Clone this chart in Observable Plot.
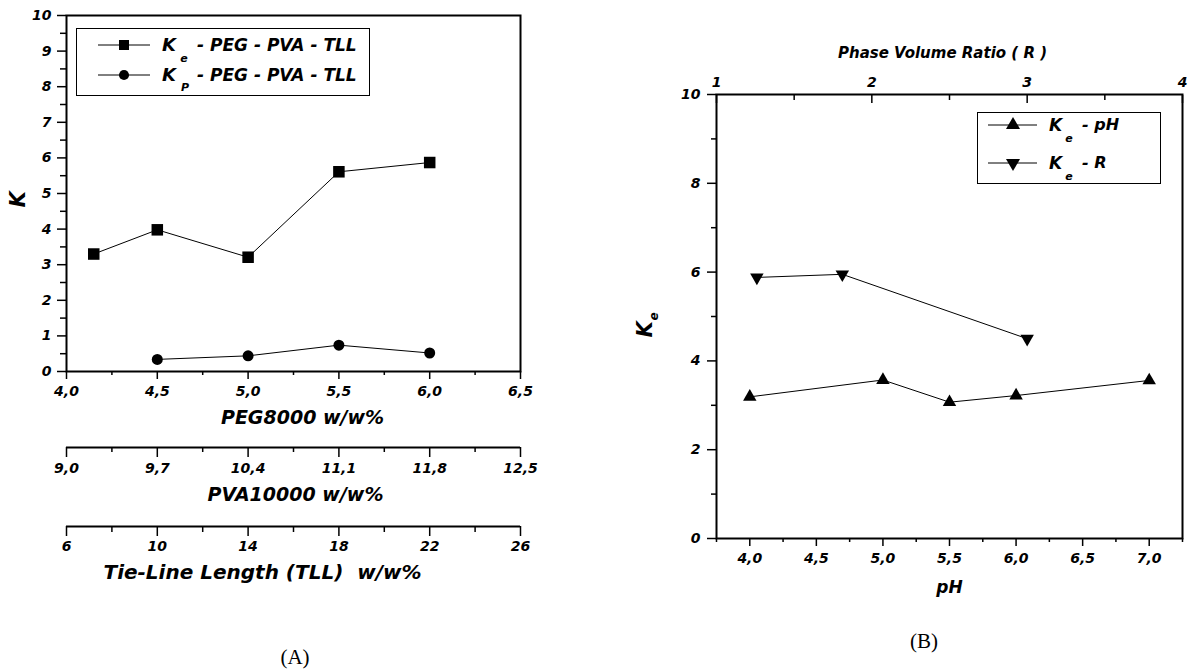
<!DOCTYPE html>
<html><head><meta charset="utf-8">
<script src="https://cdn.jsdelivr.net/npm/d3@7"></script>
<script src="https://cdn.jsdelivr.net/npm/@observablehq/plot@0.6"></script>
<style>
html,body{margin:0;padding:0;background:#fff;}
#wrap{position:relative;width:1194px;height:672px;overflow:hidden;background:#fff;}
#wrap svg{position:absolute;overflow:visible;}
</style></head>
<body><div id="wrap"></div>
<script>
// ---------- data (panel A) ----------
const pegX   = [4.15, 4.5, 5.0, 5.5, 6.0];
const keTLL  = [3.30, 3.98, 3.21, 5.61, 5.87];
const kpX    = [4.5, 5.0, 5.5, 6.0];
const kpTLL  = [0.34, 0.44, 0.74, 0.52];
const pegTicks = [4.0, 4.5, 5.0, 5.5, 6.0, 6.5];
const pegTickLabels = ["4,0", "4,5", "5,0", "5,5", "6,0", "6,5"];
const pegMinor = [4.25, 4.75, 5.25, 5.75, 6.25];
const pvaTicks = [9.0, 9.7, 10.4, 11.1, 11.8, 12.5];
const pvaTickLabels = ["9,0", "9,7", "10,4", "11,1", "11,8", "12,5"];
const pvaMinor = [9.35, 10.05, 10.75, 11.45, 12.15];
const tllTicks = [6, 10, 14, 18, 22, 26];
const tllTickLabels = ["6", "10", "14", "18", "22", "26"];
const tllMinor = [8, 12, 16, 20, 24];
const kTicks = [0, 1, 2, 3, 4, 5, 6, 7, 8, 9, 10];
const kTickLabels = ["0", "1", "2", "3", "4", "5", "6", "7", "8", "9", "10"];
const kMinor = [0.5, 1.5, 2.5, 3.5, 4.5, 5.5, 6.5, 7.5, 8.5, 9.5];

// ---------- data (panel B) ----------
const phX   = [4.0, 5.0, 5.5, 6.0, 7.0];
const kePH  = [3.19, 3.57, 3.07, 3.22, 3.56];
const rX    = [1.26, 1.81, 3.0];
const keR   = [5.88, 5.95, 4.50];
const phTicks = [4.0, 4.5, 5.0, 5.5, 6.0, 6.5, 7.0];
const phTickLabels = ["4,0", "4,5", "5,0", "5,5", "6,0", "6,5", "7,0"];
const phMinor = [3.75, 4.25, 4.75, 5.25, 5.75, 6.25, 6.75, 7.25];
const rTicks = [1, 2, 3, 4];
const rTickLabels = ["1", "2", "3", "4"];
const rMinor = [1.5, 2.5, 3.5];
const keTicks = [0, 2, 4, 6, 8, 10];
const keTickLabels = ["0", "2", "4", "6", "8", "10"];
const keMinor = [1, 3, 5, 7, 9];

const wrap = document.getElementById("wrap");
const FONT = "DejaVu Sans";
const baseStyle = {fontFamily: FONT, fontSize: "14px", fontWeight: "bold", fontStyle: "italic",
  background: "transparent", color: "black", overflow: "visible"};
function place(svg, left, top) {
  svg.style.position = "absolute"; svg.style.left = left + "px"; svg.style.top = top + "px";
  wrap.appendChild(svg);
}
const lookup = (ticks, labels) => d => labels[ticks.indexOf(d)];
const blank = () => "";
const triangleDown = {draw(context, size) {
  const y = -Math.sqrt(size / (Math.sqrt(3) * 3));
  context.moveTo(0, -y * 2);
  context.lineTo(-Math.sqrt(3) * y, y);
  context.lineTo(Math.sqrt(3) * y, y);
  context.closePath();
}};

const keRows = pegX.map((x, i) => ({x, y: keTLL[i]}));
const kpRows = kpX.map((x, i) => ({x, y: kpTLL[i]}));

// ---------- Panel A main ----------
place(Plot.plot({
  width: 560, height: 440,
  marginLeft: 66, marginRight: 40, marginTop: 15, marginBottom: 69,
  style: baseStyle,
  x: {domain: [4, 6.5]},
  y: {domain: [0, 10]},
  marks: [
    Plot.axisX(pegTicks, {tickSize: 8, tickPadding: 7, strokeWidth: 1.5, fontSize: 14, tickFormat: lookup(pegTicks, pegTickLabels), label: null}),
    Plot.axisX(pegMinor, {tickSize: 4, strokeWidth: 1.5, tickFormat: blank, label: null}),
    Plot.axisY(kTicks, {tickSize: 9, tickPadding: 6, strokeWidth: 1.5, fontSize: 14, tickFormat: lookup(kTicks, kTickLabels), label: null}),
    Plot.axisY(kMinor, {tickSize: 6, strokeWidth: 1.5, tickFormat: blank, label: null}),
    Plot.frame({stroke: "black", strokeWidth: 2}),
    Plot.line(keRows, {x: "x", y: "y", stroke: "black", strokeWidth: 1}),
    Plot.dot(keRows, {x: "x", y: "y", symbol: "square", r: 6.5, fill: "black", stroke: "none"}),
    Plot.line(kpRows, {x: "x", y: "y", stroke: "black", strokeWidth: 1}),
    Plot.dot(kpRows, {x: "x", y: "y", symbol: "circle", r: 5.5, fill: "black", stroke: "none"}),
    Plot.text(["K"], {frameAnchor: "left", dx: -48, dy: 14, rotate: -90, fontSize: 21}),
    Plot.text(["PEG8000 w/w%"], {frameAnchor: "bottom", dx: 9, dy: 52, fontSize: 19})
  ]
}), 0, 0);

// ---------- Panel A secondary axes ----------
place(Plot.plot({
  width: 560, height: 100,
  marginLeft: 66, marginRight: 40, marginTop: 0, marginBottom: 70,
  style: baseStyle,
  x: {domain: [9, 12.5]},
  y: {domain: [0, 1], axis: null},
  marks: [
    Plot.ruleY([0], {stroke: "black", strokeWidth: 2}),
    Plot.axisX(pvaTicks, {tickSize: 10, tickPadding: 6, strokeWidth: 1.5, fontSize: 14, tickFormat: lookup(pvaTicks, pvaTickLabels), label: null}),
    Plot.axisX(pvaMinor, {tickSize: 5, strokeWidth: 1.5, tickFormat: blank, label: null}),
    Plot.text(["PVA10000 w/w%"], {frameAnchor: "bottom", dx: 2, dy: 53, fontSize: 19})
  ]
}), 0, 417);

place(Plot.plot({
  width: 560, height: 100,
  marginLeft: 66, marginRight: 40, marginTop: 0, marginBottom: 70,
  style: baseStyle,
  x: {domain: [6, 26]},
  y: {domain: [0, 1], axis: null},
  marks: [
    Plot.ruleY([0], {stroke: "black", strokeWidth: 2}),
    Plot.axisX(tllTicks, {tickSize: 10, tickPadding: 5, strokeWidth: 1.5, fontSize: 14, tickFormat: lookup(tllTicks, tllTickLabels), label: null}),
    Plot.axisX(tllMinor, {tickSize: 6, strokeWidth: 1.5, tickFormat: blank, label: null}),
    Plot.text(["Tie-Line Length (TLL)  w/w%"], {frameAnchor: "bottom", dx: -31, dy: 52, fontSize: 20})
  ]
}), 0, 496);

// ---------- Panel B main ----------
const phRows = phX.map((x, i) => ({x, y: kePH[i]}));
const rRows = rX.map((x, i) => ({x, y: keR[i]}));

place(Plot.plot({
  width: 574, height: 672,
  marginLeft: 96, marginRight: 12, marginTop: 94, marginBottom: 134,
  style: baseStyle,
  x: {domain: [3.75, 7.25]},
  y: {domain: [0, 10]},
  marks: [
    Plot.axisX(phTicks, {tickSize: 8, tickPadding: 7, strokeWidth: 1.5, fontSize: 14, tickFormat: lookup(phTicks, phTickLabels), label: null}),
    Plot.axisX(phMinor, {tickSize: 4, strokeWidth: 1.5, tickFormat: blank, label: null}),
    Plot.axisY(keTicks, {tickSize: 9, tickPadding: 7, strokeWidth: 1.5, fontSize: 14, tickFormat: lookup(keTicks, keTickLabels), label: null}),
    Plot.axisY(keMinor, {tickSize: 5, strokeWidth: 1.5, tickFormat: blank, label: null}),
    Plot.frame({stroke: "black", strokeWidth: 2}),
    Plot.line(phRows, {x: "x", y: "y", stroke: "black", strokeWidth: 1}),
    Plot.dot(phRows, {x: "x", y: "y", symbol: "triangle", r: 5, fill: "black", stroke: "none"}),
    Plot.text(["pH"], {frameAnchor: "bottom", dx: 0, dy: 54, fontSize: 17}),
    Plot.text(["K"], {frameAnchor: "left", dx: -71, dy: 21, rotate: -90, fontSize: 21}),
    Plot.text(["e"], {frameAnchor: "left", dx: -62, dy: 4, rotate: -90, fontSize: 12})
  ]
}), 620, 0);

// ---------- Panel B overlay (Phase Volume Ratio axis) ----------
place(Plot.plot({
  width: 574, height: 672,
  marginLeft: 96, marginRight: 12, marginTop: 94, marginBottom: 134,
  style: baseStyle,
  x: {domain: [1, 4]},
  y: {domain: [0, 10], axis: null},
  marks: [
    Plot.axisX(rTicks, {anchor: "top", tickSize: 0, tickPadding: 8, fontSize: 14, tickFormat: lookup(rTicks, rTickLabels), label: null}),
    Plot.axisX(rTicks, {anchor: "top", tickSize: 8, dy: 8, strokeWidth: 1.5, tickFormat: blank, label: null}),
    Plot.axisX(rMinor, {anchor: "top", tickSize: 5, dy: 5, strokeWidth: 1.5, tickFormat: blank, label: null}),
    Plot.text(["Phase Volume Ratio ( R )"], {frameAnchor: "top", dx: -7, dy: -47, fontSize: 15}),
    Plot.line(rRows, {x: "x", y: "y", stroke: "black", strokeWidth: 1}),
    Plot.dot(rRows, {x: "x", y: "y", symbol: triangleDown, r: 5, fill: "black", stroke: "none"})
  ]
}), 620, 0);

// ---------- legends & captions (HTML) ----------
function txt(text, x, y, o = {}) {
  const d = document.createElement("div");
  d.textContent = text;
  Object.assign(d.style, {
    position: "absolute", left: x + "px", top: y + "px",
    transform: `translate(${o.anchor === "start" ? 0 : -50}%, -50%)`,
    whiteSpace: "pre", lineHeight: "1",
    fontFamily: o.family || FONT, fontWeight: o.weight || "bold",
    fontStyle: o.fstyle || "italic", fontSize: (o.size || 16) + "px", color: "black"
  });
  wrap.appendChild(d);
}
function box(x, y, w, h) {
  const d = document.createElement("div");
  Object.assign(d.style, {position: "absolute", left: x + "px", top: y + "px", width: w + "px", height: h + "px",
    border: "1.5px solid black", boxSizing: "border-box"});
  wrap.appendChild(d);
}
function swatch(x1, x2, cx, cy, sym, area) {
  const s = d3.create("svg").attr("width", x2 - x1 + 20).attr("height", 30)
    .style("position", "absolute").style("left", (x1 - 10) + "px").style("top", (cy - 15) + "px")
    .style("overflow", "visible");
  s.append("line").attr("x1", 10).attr("x2", x2 - x1 + 10).attr("y1", 15).attr("y2", 15)
    .attr("stroke", "black").attr("stroke-width", 1);
  s.append("path").attr("transform", `translate(${cx - x1 + 10},15)`)
    .attr("d", d3.symbol(sym, area)()).attr("fill", "black");
  wrap.appendChild(s.node());
}

// Panel A legend
box(76, 28, 294, 68);
swatch(98, 150, 124, 45, d3.symbolSquare, 100);
txt("K", 162, 45, {anchor: "start", size: 18});
txt("e", 184, 58, {size: 11});
txt("- PEG - PVA - TLL", 197, 45, {anchor: "start", size: 17});
swatch(98, 150, 124, 75, d3.symbolCircle, 80);
txt("K", 162, 75, {anchor: "start", size: 18});
txt("P", 185, 87, {size: 11});
txt("- PEG - PVA - TLL", 197, 75, {anchor: "start", size: 17});

// Panel B legend
box(977, 112, 184, 72);
swatch(988, 1037, 1013, 125, d3.symbolTriangle, 85);
txt("K", 1049, 125, {anchor: "start", size: 17});
txt("e", 1069, 138, {size: 11});
txt("- pH", 1082, 125, {anchor: "start", size: 16});
swatch(988, 1037, 1013, 163, triangleDown, 85);
txt("K", 1049, 163, {anchor: "start", size: 17});
txt("e", 1069, 176, {size: 11});
txt("- R", 1082, 163, {anchor: "start", size: 16});

// panel captions
txt("(A)", 295, 657, {family: "Liberation Serif", weight: "normal", fstyle: "normal", size: 21});
txt("(B)", 924, 641, {family: "Liberation Serif", weight: "normal", fstyle: "normal", size: 21});
</script>
</body></html>
